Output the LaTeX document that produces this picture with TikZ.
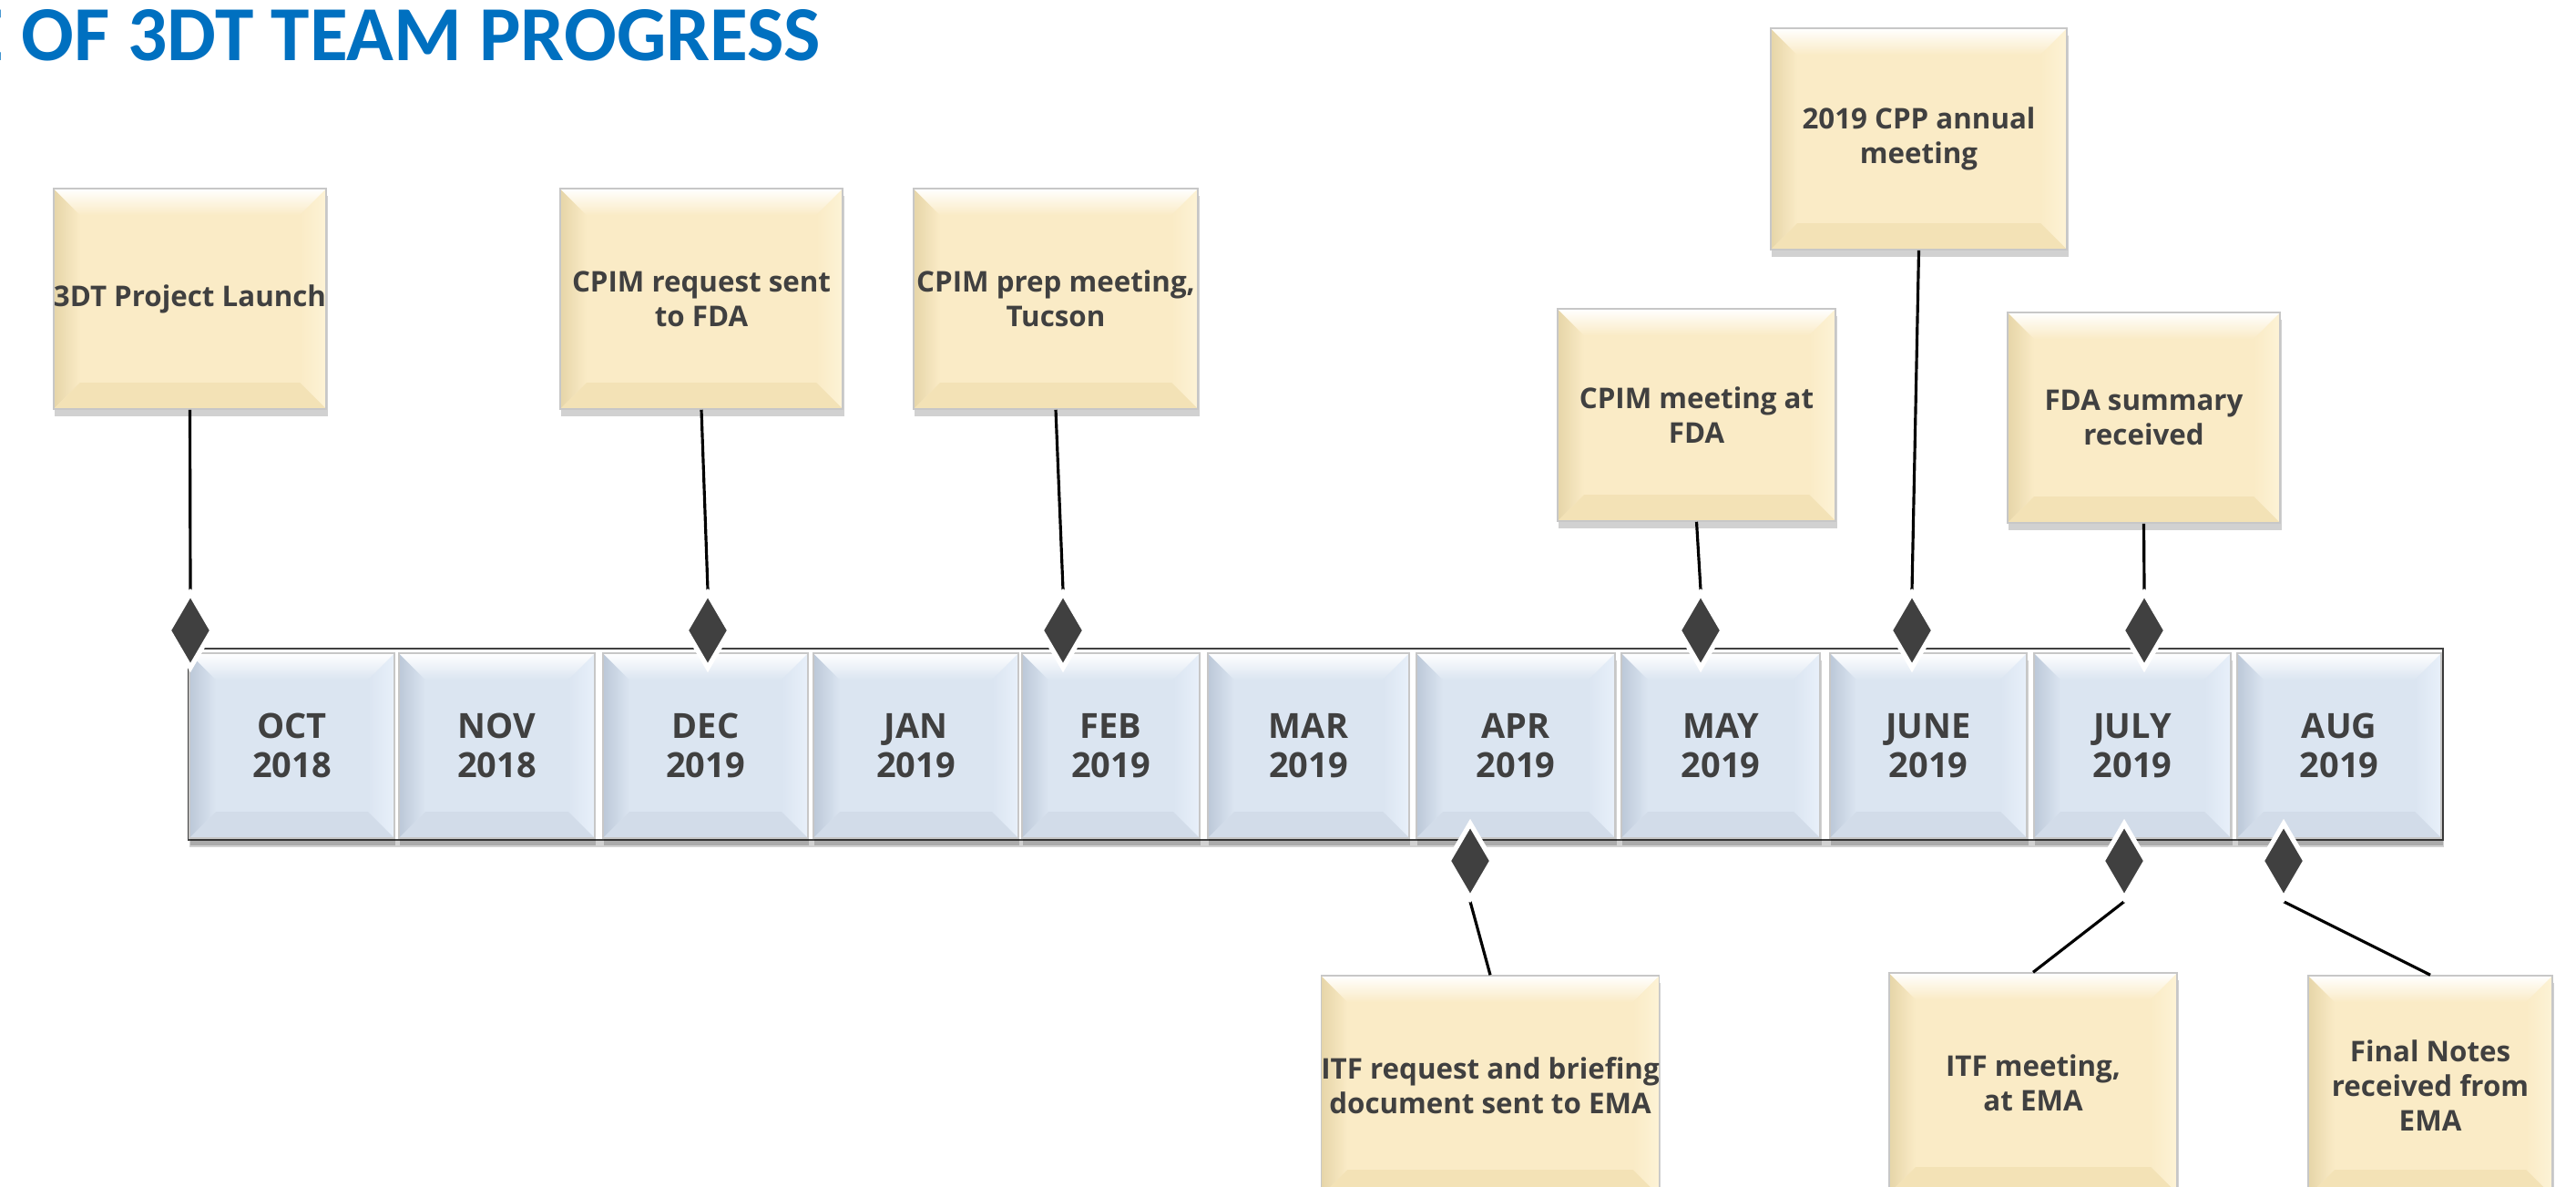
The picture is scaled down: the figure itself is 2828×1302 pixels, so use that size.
\documentclass[tikz,border=0pt]{standalone}
\usepackage{fontspec}
\setmainfont{Open Sans}
\newfontfamily\titlefont{Carlito}
\usetikzlibrary{shapes.geometric,shadows}
\definecolor{txt}{HTML}{404040}
\definecolor{dk}{HTML}{404040}
\definecolor{ttl}{HTML}{0070C0}
\definecolor{mb}{HTML}{DBE5F1}
\definecolor{mbL}{HTML}{BCC8D8}
\definecolor{mbR}{HTML}{E8F0FA}
\definecolor{mbB}{HTML}{D2DCE9}
\definecolor{cb}{HTML}{FAEBC6}
\definecolor{cbL}{HTML}{E6D5A8}
\definecolor{cbR}{HTML}{FDF3D6}
\definecolor{cbB}{HTML}{F3E2B6}
\tikzset{
  softshadow/.style={drop shadow={shadow xshift=0.4pt, shadow yshift=-2.2pt, fill=black, opacity=0.18}},
  bev/.style n args={5}{fill=#1, draw=black!22, line width=0.4pt, softshadow,
    path picture={
      \path (path picture bounding box.north west) coordinate (pNW)
            (path picture bounding box.north east) coordinate (pNE)
            (path picture bounding box.south west) coordinate (pSW)
            (path picture bounding box.south east) coordinate (pSE);
      \shade[left color=#3, right color=#1] (pNW) -- ([xshift=0.29cm,yshift=-0.29cm]pNW) -- ([xshift=0.29cm,yshift=0.29cm]pSW) -- (pSW) -- cycle;
      \shade[left color=#1, right color=#4] (pNE) -- (pSE) -- ([xshift=-0.29cm,yshift=0.29cm]pSE) -- ([xshift=-0.29cm,yshift=-0.29cm]pNE) -- cycle;
      \fill[#5] (pSW) -- (pSE) -- ([xshift=-0.29cm,yshift=0.29cm]pSE) -- ([xshift=0.29cm,yshift=0.29cm]pSW) -- cycle;
      \shade[top color=white, bottom color=#1] (pNW) -- (pNE) -- ([xshift=-0.29cm,yshift=-0.29cm]pNE) -- ([xshift=0.29cm,yshift=-0.29cm]pNW) -- cycle;
    }},
  monthbox/.style={bev={mb}{white}{mbL}{mbR}{mbB}, minimum height=2.03cm, inner sep=0pt,
    font=\bfseries\fontsize{10.8}{12.3}\selectfont, text=txt, align=center},
  callout/.style={bev={cb}{white}{cbL}{cbR}{cbB}, inner sep=0pt,
    font=\bfseries\fontsize{8.9}{10.8}\selectfont, text=txt, align=center},
  diam/.style={shape=diamond, fill=dk, draw=white, line width=1.5pt,
    minimum width=0.50cm, minimum height=0.84cm, inner sep=0pt},
  conn/.style={draw=black, line width=0.9pt},
}
\begin{document}
\begin{tikzpicture}[x=0.01cm, y=-0.01cm]
\useasboundingbox[fill=white] (0,0) rectangle (2828,1302);

% title
\node[anchor=base east, inner sep=0pt, text=ttl, font=\titlefont\bfseries\fontsize{24.3}{29}\selectfont] (title) at (902,66) {E OF 3DT TEAM PROGRESS};

% timeline bar
\path[fill=white, draw=dk, line width=0.7pt, softshadow] (207,712) rectangle (2682,922);
\node[monthbox, minimum width=2.25cm] (m1)  at (320.5,818.5) {OCT\\2018};
\node[monthbox, minimum width=2.15cm] (m2)  at (545.5,818.5) {NOV\\2018};
\node[monthbox, minimum width=2.25cm] (m3)  at (774.5,818.5) {DEC\\2019};
\node[monthbox, minimum width=2.25cm] (m4)  at (1005.5,818.5) {JAN\\2019};
\node[monthbox, minimum width=1.95cm] (m5)  at (1219.5,818.5) {FEB\\2019};
\node[monthbox, minimum width=2.21cm] (m6)  at (1436.5,818.5) {MAR\\2019};
\node[monthbox, minimum width=2.18cm] (m7)  at (1664,818.5) {APR\\2019};
\node[monthbox, minimum width=2.18cm] (m8)  at (1889,818.5) {MAY\\2019};
\node[monthbox, minimum width=2.16cm] (m9)  at (2117,818.5) {JUNE\\2019};
\node[monthbox, minimum width=2.16cm] (m10) at (2341,818.5) {JULY\\2019};
\node[monthbox, minimum width=2.24cm] (m11) at (2568,818.5) {AUG\\2019};

% callouts above
\node[callout, minimum width=2.95cm, minimum height=2.42cm] (c1) at (208.5,328) {3DT Project Launch};
\node[callout, minimum width=3.10cm, minimum height=2.42cm] (c2) at (770,328) {CPIM request sent\\to FDA};
\node[callout, minimum width=3.12cm, minimum height=2.42cm] (c3) at (1159,328) {CPIM prep meeting,\\Tucson};
\node[callout, minimum width=3.05cm, minimum height=2.33cm] (c4) at (1862.5,455.5) {CPIM meeting at\\FDA};
\node[callout, minimum width=3.25cm, minimum height=2.43cm] (c5) at (2106.5,152.5) {2019 CPP annual\\meeting};
\node[callout, minimum width=2.99cm, minimum height=2.31cm] (c6) at (2353.5,458.5) {FDA summary\\received};
% callouts below
\node[callout, minimum width=3.62cm, minimum height=2.42cm] (c7) at (1636,1192) {ITF request and briefing\\document sent to EMA};
\node[callout, minimum width=3.16cm, minimum height=2.42cm] (c8) at (2232,1189) {ITF meeting,\\at EMA};
\node[callout, minimum width=2.68cm, minimum height=2.42cm] (c9) at (2668,1192) {Final Notes\\received from\\EMA};

% diamonds
\path (209,692) coordinate (p1) (777,692) coordinate (p2) (1167,692) coordinate (p3)
      (1867,692) coordinate (p4) (2099,692) coordinate (p5) (2354,692) coordinate (p6)
      (1614,945) coordinate (p7) (2332,945) coordinate (p8) (2507,945) coordinate (p9);
\foreach \i in {1,...,9} { \node[diam, fill=none, draw=none] (d\i) at (p\i) {}; }

% connectors
\draw[conn] (c1.south) -- (d1.north);
\draw[conn] (c2.south) -- (d2.north);
\draw[conn] (c3.south) -- (d3.north);
\draw[conn] (c4.south) -- (d4.north);
\draw[conn] (c5.south) -- (d5.north);
\draw[conn] (c6.south) -- (d6.north);
\draw[conn] (d7.south) -- (c7.north);
\draw[conn] (d8.south) -- (c8.north);
\draw[conn] (d9.south) -- (c9.north);

\foreach \i in {1,...,9} { \node[diam] at (d\i) {}; }
\end{tikzpicture}
\end{document}
